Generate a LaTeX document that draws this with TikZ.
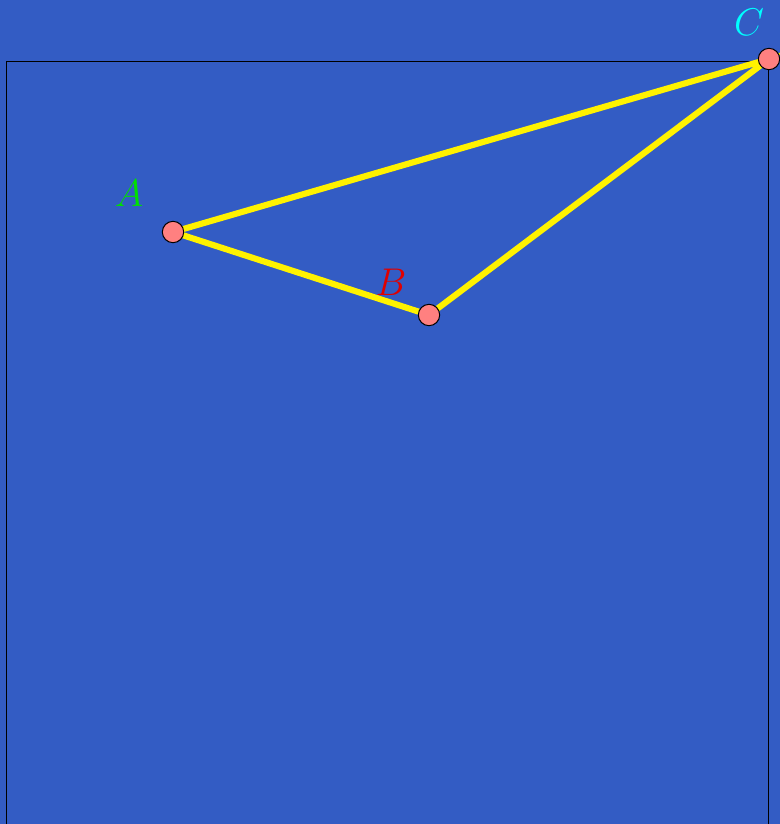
\RequirePackage{fix-cm}
\documentclass[tikz,border=0pt]{standalone}
\usepackage{tikz}
\usepackage{amsmath}

\definecolor{bgblue}{RGB}{51,92,196}
\definecolor{dotfill}{RGB}{255,128,128}
\definecolor{labgreen}{RGB}{0,224,0}
\definecolor{labred}{RGB}{224,0,0}
\definecolor{labcyan}{RGB}{0,255,255}

\tikzset{
  dot/.style={circle,draw=black,line width=0.75,fill=dotfill,minimum size=16pt,inner sep=0pt},
  side/.style={draw=yellow,line width=4.6pt},
  lab/.style={inner sep=0.75pt,font=\fontsize{29}{34}\selectfont}
}

\begin{document}
\begin{tikzpicture}[x=0.75pt,y=0.75pt,yscale=-1,xscale=1]
      \fill [bgblue] (0,0) rectangle (780,824) ;
      \useasboundingbox (0,0) rectangle (780,824) ;
      \draw [line width=0.75]   (6,823.5) -- (6,61.5) -- (768,61.5) -- (768,823.5) ;
      % corners of the triangle
      \coordinate (A) at (173,232) ;
      \coordinate (B) at (429,315) ;
      \coordinate (C) at (769,59) ;
      \draw [side]   (A) -- (B) -- (C) -- cycle ;
      \node [dot] (dA) at (A) {} ;
      \node [dot] (dB) at (B) {} ;
      \node [dot] (dC) at (C) {} ;
      % labels
      \node [lab,text=labgreen] (labA) at (129,193) {$A$};
      \node [lab,text=labred] (labB) at (391,282) {$B$};
      \node [lab,text=labcyan] (labC) at (749,22) {$C$};
  \end{tikzpicture}
\end{document}
